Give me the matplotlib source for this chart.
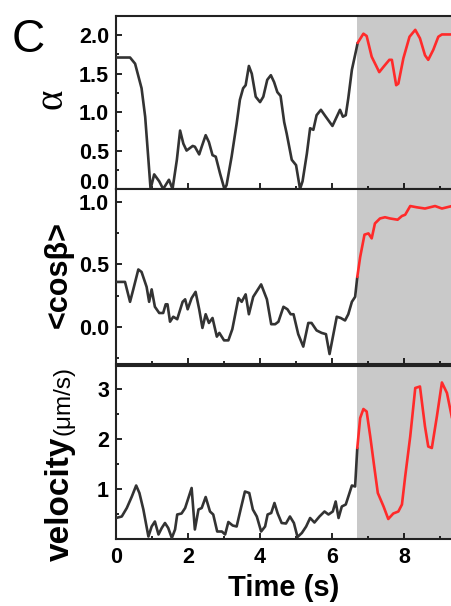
import numpy as np
import matplotlib
matplotlib.use("Agg")
import matplotlib.pyplot as plt
from matplotlib.ticker import MultipleLocator, FormatStrFormatter

# ---------------- data ----------------
switch_time = 6.70          # start of shaded (red) regime, s
time_max = 9.33

alpha_t = [0.00, 0.39, 0.53, 0.71, 0.81, 0.90, 0.96, 1.06, 1.20, 1.31, 1.47, 1.57, 1.69, 1.78,
           1.87, 1.96, 2.13, 2.19, 2.31, 2.38, 2.49, 2.58, 2.68, 2.77, 2.89, 3.01, 3.07, 3.21,
           3.35, 3.44, 3.53, 3.60, 3.69, 3.77, 3.88, 4.00, 4.09, 4.20, 4.30, 4.39, 4.48, 4.57,
           4.67, 4.74, 4.88, 5.00, 5.11, 5.18, 5.30, 5.39, 5.48, 5.57, 5.69, 5.81, 6.01, 6.13,
           6.22, 6.30, 6.38, 6.45, 6.55, 6.67, 6.71, 6.87, 6.96, 7.10, 7.31, 7.43, 7.59, 7.66,
           7.78, 7.84, 7.98, 8.15, 8.31, 8.44, 8.58, 8.67, 8.81, 8.95, 9.05, 9.33]
alpha_v = [1.71, 1.71, 1.63, 1.31, 0.94, 0.38, 0.00, 0.19, 0.10, 0.00, 0.12, 0.00, 0.38, 0.76,
           0.59, 0.50, 0.56, 0.55, 0.45, 0.55, 0.70, 0.61, 0.44, 0.42, 0.20, 0.00, 0.05, 0.42,
           0.85, 1.16, 1.31, 1.35, 1.60, 1.50, 1.20, 1.13, 1.20, 1.42, 1.48, 1.39, 1.26, 1.21,
           0.87, 0.72, 0.38, 0.31, 0.00, 0.10, 0.46, 0.79, 0.77, 0.96, 1.03, 0.95, 0.82, 0.94,
           1.03, 0.94, 0.96, 1.18, 1.55, 1.81, 1.90, 2.02, 1.99, 1.72, 1.52, 1.59, 1.68, 1.68,
           1.35, 1.37, 1.70, 1.98, 2.07, 1.96, 1.74, 1.68, 1.81, 1.98, 2.01, 2.01]

cos_t = [0.00, 0.25, 0.39, 0.48, 0.62, 0.71, 0.85, 0.92, 0.99, 1.08, 1.20, 1.31, 1.38, 1.43,
         1.50, 1.59, 1.70, 1.85, 1.92, 1.99, 2.10, 2.21, 2.31, 2.40, 2.49, 2.58, 2.68, 2.80,
         2.87, 3.00, 3.12, 3.23, 3.40, 3.49, 3.60, 3.69, 3.81, 4.03, 4.19, 4.31, 4.42, 4.51,
         4.65, 4.76, 4.85, 4.93, 5.06, 5.20, 5.34, 5.43, 5.57, 5.71, 5.83, 5.93, 6.01, 6.13,
         6.24, 6.36, 6.45, 6.55, 6.64, 6.70, 6.78, 6.90, 7.01, 7.10, 7.19, 7.33, 7.47, 7.61,
         7.82, 7.94, 8.03, 8.17, 8.35, 8.58, 8.86, 9.05, 9.33]
cos_v = [0.36, 0.36, 0.20, 0.30, 0.46, 0.44, 0.32, 0.20, 0.30, 0.16, 0.11, 0.11, 0.18, 0.18,
         0.04, 0.08, 0.06, 0.20, 0.22, 0.14, 0.23, 0.28, 0.14, -0.01, 0.10, 0.03, 0.07, -0.08,
         -0.05, -0.11, -0.11, -0.02, 0.23, 0.20, 0.26, 0.10, 0.24, 0.34, 0.22, 0.02, 0.02, 0.04,
         0.16, 0.14, 0.10, 0.10, -0.06, -0.16, 0.03, 0.03, -0.03, -0.05, -0.06, -0.22, -0.10, 0.08,
         0.07, 0.05, 0.10, 0.20, 0.24, 0.40, 0.56, 0.74, 0.75, 0.71, 0.83, 0.87, 0.88, 0.87,
         0.86, 0.89, 0.90, 0.97, 0.96, 0.95, 0.97, 0.95, 0.97]

vel_t = [0.00, 0.16, 0.30, 0.44, 0.56, 0.65, 0.76, 0.90, 0.99, 1.08, 1.18, 1.27, 1.36, 1.45,
         1.55, 1.64, 1.70, 1.82, 1.92, 2.01, 2.10, 2.19, 2.29, 2.38, 2.49, 2.61, 2.70, 2.81,
         2.94, 3.03, 3.12, 3.24, 3.35, 3.46, 3.58, 3.70, 3.80, 3.91, 4.03, 4.14, 4.21, 4.31,
         4.40, 4.49, 4.60, 4.72, 4.83, 4.94, 5.04, 5.16, 5.28, 5.39, 5.51, 5.65, 5.79, 5.90,
         6.02, 6.10, 6.18, 6.27, 6.38, 6.47, 6.55, 6.64, 6.70, 6.78, 6.87, 6.96, 7.06, 7.17,
         7.27, 7.43, 7.56, 7.70, 7.84, 7.94, 8.03, 8.17, 8.31, 8.44, 8.58, 8.67, 8.77, 8.91,
         9.05, 9.19, 9.33]
vel_v = [0.42, 0.45, 0.62, 0.85, 1.07, 0.92, 0.59, 0.05, 0.25, 0.35, 0.09, 0.22, 0.32, 0.22,
         0.02, 0.19, 0.49, 0.51, 0.62, 0.82, 1.02, 0.19, 0.59, 0.62, 0.84, 0.55, 0.49, 0.15,
         0.15, 0.09, 0.34, 0.27, 0.25, 0.59, 0.95, 0.92, 0.59, 0.45, 0.15, 0.25, 0.49, 0.52,
         0.72, 0.51, 0.32, 0.31, 0.45, 0.32, 0.04, 0.12, 0.25, 0.42, 0.33, 0.45, 0.55, 0.49,
         0.55, 0.75, 0.42, 0.65, 0.69, 0.89, 1.07, 1.05, 1.82, 2.42, 2.60, 2.55, 2.05, 1.45,
         0.92, 0.65, 0.40, 0.51, 0.55, 0.69, 1.25, 2.05, 3.02, 3.05, 2.25, 1.85, 1.82, 2.45,
         3.13, 2.92, 2.42]

alpha_ticks = [0.0, 0.5, 1.0, 1.5, 2.0]
cos_ticks = [0.0, 0.5, 1.0]
vel_ticks = [1, 2, 3]
time_ticks = [0, 2, 4, 6, 8]

# ---------------- style ----------------
W, H = 452, 606
fig = plt.figure(figsize=(W / 100, H / 100), dpi=100)
SANS = ["Liberation Sans", "DejaVu Sans"]
BOLD = dict(family=SANS, weight="bold")
LINE_BLACK = "#333333"
LINE_RED = "#ff2a2a"
SHADE = "#c9c9c9"

def fx(px):
    return px / W

def fy(py):
    return 1 - py / H

left = fx(116)
width = 1.0 - left
panels = [(16, 189), (189, 364), (366, 539)]
axes = []
for top_px, bot_px in panels:
    ax = fig.add_axes([left, fy(bot_px), width, (bot_px - top_px) / H])
    axes.append(ax)

series = [(alpha_t, alpha_v, (0, 2.25), alpha_ticks, 0.25),
          (cos_t, cos_v, (-0.3, 1.107), cos_ticks, 0.25),
          (vel_t, vel_v, (0, 3.46), vel_ticks, 0.5)]

for ax, (t, v, ylim, yt, ymin) in zip(axes, series):
    t = np.asarray(t)
    v = np.asarray(v)
    ax.axvspan(switch_time, time_max + 1, color=SHADE, lw=0, zorder=0)
    i = int(np.searchsorted(t, switch_time))
    ax.plot(t[:i + 1], v[:i + 1], color=LINE_BLACK, lw=1.9, zorder=3,
            solid_joinstyle="round", solid_capstyle="round")
    ax.plot(t[i:], v[i:], color=LINE_RED, lw=1.9, zorder=3,
            solid_joinstyle="round", solid_capstyle="round")
    ax.set_xlim(0, time_max)
    ax.set_ylim(*ylim)
    ax.set_yticks(yt)
    ax.yaxis.set_minor_locator(MultipleLocator(ymin))
    ax.set_xticks(time_ticks)
    ax.xaxis.set_minor_locator(MultipleLocator(1))
    ax.tick_params(which="both", direction="in", top=False, right=False, width=1.2)
    ax.tick_params(which="major", length=4, pad=5)
    ax.tick_params(which="minor", length=2.5)
    ax.spines["right"].set_visible(False)
    for s in ("left", "top", "bottom"):
        ax.spines[s].set_linewidth(1.5)
        ax.spines[s].set_color("#222222")

axes[0].yaxis.set_major_formatter(FormatStrFormatter("%.1f"))
axes[1].yaxis.set_major_formatter(FormatStrFormatter("%.1f"))
for ax in axes[:2]:
    ax.tick_params(labelbottom=False)
for ax in axes:
    for lab in ax.get_yticklabels():
        lab.set_fontsize(15.5)
        lab.set_fontweight("bold")
        lab.set_family(SANS)
axes[0].get_yticklabels()[0].set_verticalalignment("baseline")

for lab in axes[2].get_xticklabels():
    lab.set_fontsize(15.5)
    lab.set_fontweight("bold")
    lab.set_family(SANS)
axes[2].tick_params(axis="x", pad=6)
axes[2].set_xlabel("Time (s)", fontsize=21, labelpad=4, **BOLD)

# y labels
fig.text(fx(52), fy(99), "α", rotation=90, ha="center", va="center",
         fontsize=28, family=["Liberation Serif", "DejaVu Serif"])
fig.text(fx(59), fy(275), "<cosβ>", rotation=90, ha="center", va="center",
         fontsize=22, **BOLD)
vel = fig.text(fx(69), fy(561), "velocity", rotation=90, rotation_mode="anchor",
               ha="left", va="baseline", fontsize=24, **BOLD)
fig.canvas.draw()
bb = vel.get_window_extent(fig.canvas.get_renderer())
top_y = bb.y1 / fig.bbox.height
fig.text(fx(70), top_y + 1.5 / H, "(μm/s)", rotation=90, rotation_mode="anchor",
         ha="left", va="baseline", fontsize=17.5, family=SANS)

# panel letter
fig.text(fx(12), fy(52), "C", fontsize=33, ha="left", va="baseline", family=SANS)

fig.savefig("out.png", dpi=100)
